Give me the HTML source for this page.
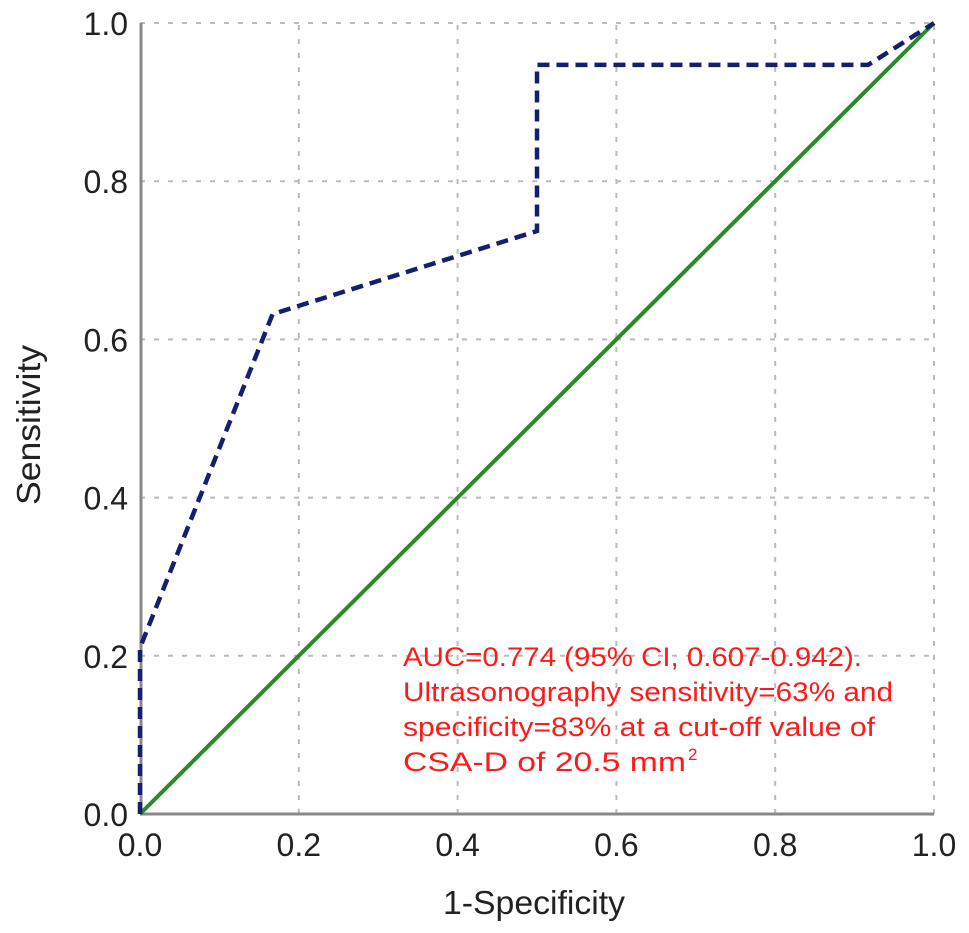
<!DOCTYPE html>
<html><head><meta charset="utf-8"><style>
body{margin:0;background:#fff}
svg{display:block;font-family:"Liberation Sans",Arial,sans-serif}
</style></head><body>
<svg id="chart" width="969" height="933" viewBox="0 0 969 933" xmlns="http://www.w3.org/2000/svg">
<g id="grid"></g>
<g id="axes"></g>
<g id="series"></g>
<text x="534" y="914" font-size="33" text-anchor="middle" fill="#222" textLength="182" lengthAdjust="spacingAndGlyphs">1-Specificity</text>
<text transform="translate(40,425) rotate(-90)" font-size="33" text-anchor="middle" fill="#222" textLength="160" lengthAdjust="spacingAndGlyphs">Sensitivity</text>
<g font-size="27" fill="#ff1a1a">
<text x="403" y="666" textLength="459" lengthAdjust="spacingAndGlyphs">AUC=0.774 (95% CI, 0.607-0.942).</text>
<text x="403" y="701" textLength="490" lengthAdjust="spacingAndGlyphs">Ultrasonography sensitivity=63% and</text>
<text x="403" y="736" textLength="472" lengthAdjust="spacingAndGlyphs">specificity=83% at a cut-off value of</text>
<text x="403" y="771" textLength="283" lengthAdjust="spacingAndGlyphs">CSA-D of 20.5 mm</text>
<text x="688" y="760" font-size="17">2</text>
</g>
</svg>
<script>
const ticks=[0,0.2,0.4,0.6,0.8,1.0];
const tickLabels=["0.0","0.2","0.4","0.6","0.8","1.0"];
const rocX=[0,0,0.167,0.5,0.5,0.917,1];
const rocY=[0,0.21,0.632,0.737,0.947,0.947,1];
const refX=[0,1];
const refY=[0,1];
const X0=140,X1=934,Y0=814,Y1=23;
const sx=v=>X0+v*(X1-X0), sy=v=>Y0-v*(Y0-Y1);
const NS="http://www.w3.org/2000/svg";
function mk(tag,attrs,parent){const e=document.createElementNS(NS,tag);for(const k in attrs)e.setAttribute(k,attrs[k]);parent.appendChild(e);return e;}
const grid=document.getElementById('grid'),axes=document.getElementById('axes'),series=document.getElementById('series');
ticks.forEach((t,i)=>{
  if(t>0){
    const gx=mk('line',{x1:sx(t),x2:sx(t),y1:Y0,y2:Y1,stroke:'#bbb','stroke-width':2,'stroke-dasharray':'5 9'},grid);
    
    
    const gy=mk('line',{x1:X0,x2:X1,y1:sy(t),y2:sy(t),stroke:'#bbb','stroke-width':2,'stroke-dasharray':'5 9'},grid);
    
    
  }
  const xl=mk('text',{x:sx(t),y:856,'font-size':32,'text-anchor':'middle',fill:'#222'},axes);
  xl.textContent=tickLabels[i];
  
  
  const yl=mk('text',{x:128,y:sy(t)+12,'font-size':32,'text-anchor':'end',fill:'#222'},axes);
  yl.textContent=tickLabels[i];
  
  
});
const ya=mk('line',{x1:X0+1,x2:X0+1,y1:Y0,y2:Y1,stroke:'#888','stroke-width':3},axes);


const xa=mk('line',{x1:X0,x2:X1,y1:Y0,y2:Y0,stroke:'#888','stroke-width':3},axes);


const ref=mk('polyline',{points:refX.map((v,i)=>sx(v)+','+sy(refY[i])).join(' '),fill:'none',stroke:'#2a8a2a','stroke-width':4},series);


const roc=mk('polyline',{points:rocX.map((v,i)=>sx(v)+','+sy(rocY[i])).join(' '),fill:'none',stroke:'#14206e','stroke-width':4.5,'stroke-dasharray':'12 7'},series);


</script>
</body></html>
